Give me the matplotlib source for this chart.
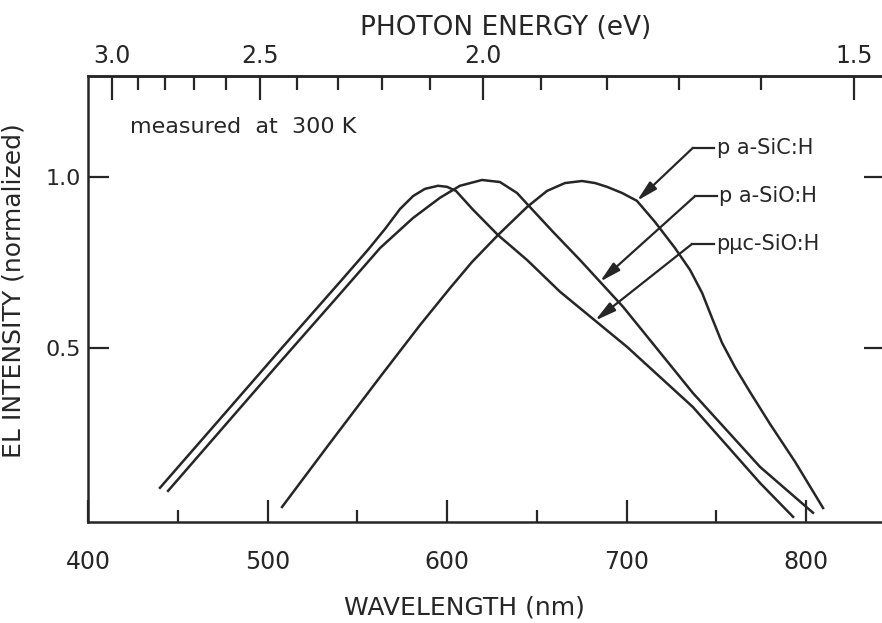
import numpy as np
import matplotlib
matplotlib.use("Agg")
import matplotlib.pyplot as plt
from matplotlib.ticker import FixedLocator

# EL spectra at 300 K: wavelength (nm) vs normalized intensity
sic_nm = [508.1, 534.8, 562.7, 585.0, 601.7, 613.9, 628.4, 644.6, 655.7, 665.7,
          675.2, 682.5, 689.1, 697.5, 705.8, 715.9, 727.0, 735.4, 742.1, 747.6,
          753.2, 760.4, 768.8, 779.9, 793.9, 809.5]
sic_int = [0.035, 0.222, 0.415, 0.567, 0.675, 0.751, 0.830, 0.912, 0.959, 0.982,
           0.988, 0.982, 0.971, 0.953, 0.930, 0.868, 0.792, 0.728, 0.661, 0.588,
           0.515, 0.444, 0.371, 0.278, 0.167, 0.032]

sio_nm = [444.6, 504.2, 540.4, 562.7, 581.1, 596.1, 607.2, 619.5, 629.5, 639.0,
          644.6, 659.1, 674.1, 698.1, 737.0, 774.4, 803.9]
sio_int = [0.082, 0.442, 0.658, 0.792, 0.880, 0.939, 0.974, 0.991, 0.985, 0.953,
           0.921, 0.839, 0.757, 0.620, 0.368, 0.152, 0.018]

uc_nm = [440.1, 473.5, 507.0, 540.4, 556.0, 565.5, 573.8, 581.1, 587.7, 595.0,
         600.0, 605.0, 614.5, 628.4, 644.6, 663.0, 700.3, 737.0, 774.4, 792.8]
uc_int = [0.091, 0.292, 0.494, 0.693, 0.787, 0.848, 0.906, 0.944, 0.965, 0.974,
          0.971, 0.959, 0.904, 0.830, 0.757, 0.664, 0.503, 0.327, 0.105, 0.006]

labels = ["p a-SiC:H", "p a-SiO:H", "p\u03bcc-SiO:H"]
# where each label's arrow touches its curve, and the elbow / text height
arrow_x = [705.8, 685.2, 682.5]
elbow = [(737.0, 1.085), (738.2, 0.944), (736.5, 0.804)]

wl_ticks = [400, 500, 600, 700, 800]
wl_minor = [450, 550, 650, 750]
ev_ticks = [3.0, 2.5, 2.0, 1.5]
ev_minor = [2.9, 2.8, 2.7, 2.6, 2.4, 2.3, 2.2, 2.1, 1.9, 1.8, 1.7, 1.6]

ink = "#262626"
W, H = 882, 623
fig = plt.figure(figsize=(W / 100, H / 100), dpi=100)
fig.patch.set_facecolor("white")
ax = fig.add_axes([88 / W, (H - 522) / H, (885 - 88) / W, (522 - 76) / H])

for nm, val in [(sic_nm, sic_int), (sio_nm, sio_int), (uc_nm, uc_int)]:
    ax.plot(nm, val, color=ink, lw=1.8, solid_joinstyle="round")

ax.set_xlim(400, 844)
ax.set_ylim(-0.009, 1.295)

for sp in ax.spines.values():
    sp.set_linewidth(1.8)
    sp.set_color(ink)

ax.set_xticks(wl_ticks)
ax.set_xticklabels([str(t) for t in wl_ticks])
ax.xaxis.set_minor_locator(FixedLocator(wl_minor))
ax.tick_params(axis="x", which="major", direction="in", length=16, width=1.6,
               pad=20, labelsize=17, colors=ink, top=False)
ax.tick_params(axis="x", which="minor", direction="in", length=9, width=1.6,
               top=False, colors=ink)

ax.set_yticks([0.5, 1.0])
ax.set_yticklabels(["0.5", "1.0"])
ax.tick_params(axis="y", direction="in", length=15, width=1.6, pad=5,
               labelsize=16, left=True, right=True, colors=ink)


def nm_to_ev(x):
    x = np.asarray(x, dtype=float)
    with np.errstate(divide="ignore"):
        return 1240.0 / x


secax = ax.secondary_xaxis("top", functions=(nm_to_ev, nm_to_ev))
secax.set_xticks(ev_ticks)
secax.set_xticklabels(["%.1f" % t for t in ev_ticks])
secax.xaxis.set_minor_locator(FixedLocator(ev_minor))
secax.tick_params(which="major", direction="in", length=17, width=1.6, pad=6,
                  labelsize=17, colors=ink)
secax.tick_params(which="minor", direction="in", length=10, width=1.6, colors=ink)
secax.spines["top"].set_linewidth(1.8)
secax.spines["top"].set_color(ink)

ax.set_xlabel("WAVELENGTH (nm)", fontsize=18, color=ink)
ax.xaxis.set_label_coords(0.472, -0.164)
ax.set_ylabel("EL INTENSITY (normalized)", fontsize=18, color=ink)
ax.yaxis.set_label_coords(-0.079, 0.518)
fig.text(506 / W, 1 - 28 / H, "PHOTON ENERGY (eV)", fontsize=19, color=ink,
         ha="center", va="center")

ax.text(423.4, 1.146, "measured  at  300 K", fontsize=16, color=ink,
        va="center", ha="left")

series = [(sic_nm, sic_int), (sio_nm, sio_int), (uc_nm, uc_int)]
for (nm, val), lab, tx, (ex, ey) in zip(series, labels, arrow_x, elbow):
    ty = float(np.interp(tx, nm, val))
    ax.annotate("", xy=(tx, ty), xytext=(ex, ey),
                arrowprops=dict(arrowstyle="-|>,head_length=0.9,head_width=0.22",
                                color=ink, lw=1.6, shrinkA=0, shrinkB=0,
                                mutation_scale=14))
    ax.plot([ex, ex + 12], [ey, ey], color=ink, lw=1.6)
    ax.text(ex + 13.5, ey, lab, fontsize=15, color=ink, va="center", ha="left")

fig.savefig("out.png", dpi=100, facecolor="white")
